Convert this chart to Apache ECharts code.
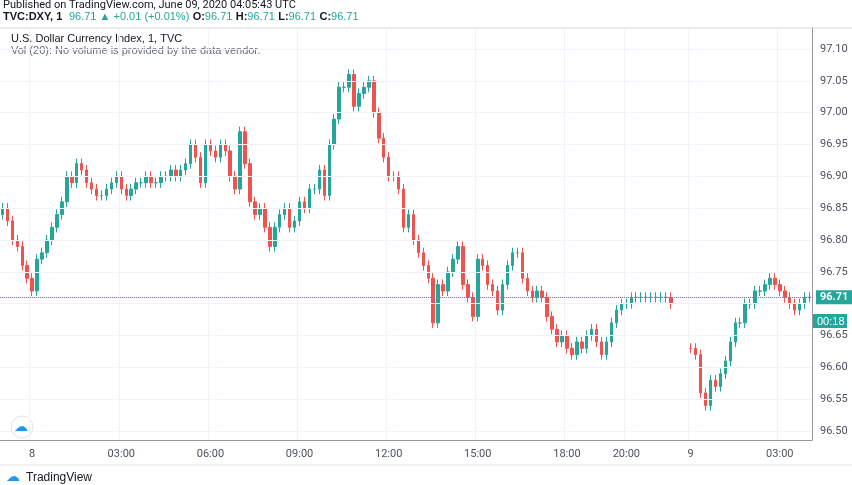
<!DOCTYPE html>
<html><head><meta charset="utf-8">
<script src="https://cdn.jsdelivr.net/npm/echarts@6/dist/echarts.min.js"></script>
<style>html,body{margin:0;padding:0;background:#fff}#c{width:852px;height:485px}</style>
</head><body><div id="c"></div>
<script>
// closes per ~10-min slot, June 8 (from 23:00 Jun 7)
const closesDay8 = [96.85,96.83,96.80,96.79,96.76,96.74,96.72,96.77,96.78,96.80,96.82,96.84,96.86,96.90,96.89,96.92,96.91,96.89,96.88,96.87,96.87,96.88,96.89,96.90,96.88,96.87,96.88,96.89,96.89,96.90,96.89,96.89,96.90,96.90,96.91,96.90,96.91,96.92,96.95,96.93,96.89,96.95,96.94,96.93,96.95,96.94,96.90,96.88,96.97,96.92,96.86,96.84,96.85,96.82,96.79,96.82,96.84,96.85,96.82,96.83,96.86,96.85,96.88,96.88,96.91,96.87,96.95,96.99,97.04,97.04,97.06,97.01,97.03,97.04,97.05,97.00,96.96,96.93,96.90,96.90,96.88,96.82,96.84,96.80,96.78,96.76,96.74,96.67,96.73,96.72,96.75,96.77,96.79,96.73,96.71,96.68,96.77,96.76,96.73,96.72,96.69,96.73,96.76,96.78,96.78,96.74,96.72,96.71,96.72,96.71,96.68,96.66,96.64,96.65,96.63,96.62,96.64,96.63,96.65,96.66,96.64,96.62,96.64,96.67,96.69,96.70,96.70,96.71,96.71,96.71,96.71,96.71,96.71,96.71,96.71,96.70];
const firstOpen = 96.84;
const gapSlots = 3;
const closesDay9 = [96.63,96.62,96.56,96.54,96.58,96.57,96.59,96.61,96.64,96.67,96.67,96.70,96.70,96.72,96.72,96.73,96.74,96.73,96.72,96.71,96.70,96.69,96.70,96.71,96.71];
const day9Open = 96.63;
const yGrid = [96.50,96.55,96.60,96.65,96.70,96.75,96.80,96.85,96.90,96.95,97.00,97.05,97.10];
const yLabels = [96.50,96.55,96.60,96.65,96.75,96.80,96.85,96.90,96.95,97.00,97.05,97.10];
const lastPrice = 96.71;
const xLabelMap = {"00:00|8":"8","03:00|8":"03:00","06:00|8":"06:00","09:00|8":"09:00","12:00|8":"12:00","15:00|8":"15:00","18:00|8":"18:00","20:00|8":"20:00","00:00|9":"9","03:00|9":"03:00"};

const cats=[], candles=[];
const pad=n=>String(n).padStart(2,'0');
let prev=firstOpen;
closesDay8.forEach((c,i)=>{const m=23*60+i*10;const t=m%1440;cats.push(pad(Math.floor(t/60))+':'+pad(t%60)+'|'+(m>=1440?8:7));
  const o=prev;candles.push([o,c,Math.min(o,c)-0.008,Math.max(o,c)+0.008]);prev=c;});
for(let g=0;g<gapSlots;g++){cats.push('gap'+g);candles.push('-');}
prev=day9Open;
closesDay9.forEach((c,i)=>{const m=i*10;cats.push(pad(Math.floor(m/60))+':'+pad(m%60)+'|9');
  const o=prev;candles.push([o,c,Math.min(o,c)-0.008,Math.max(o,c)+0.008]);prev=c;});

const showIdx=(i)=>xLabelMap[cats[i]]!==undefined;
const chart=echarts.init(document.getElementById('c'));
const teal='#26a69a', red='#ef5350';
chart.setOption({
 animation:false,
 textStyle:{fontFamily:'Roboto, Arial, sans-serif'},
 grid:{left:0,right:40,top:28,bottom:45},
 xAxis:{type:'category',data:cats,boundaryGap:true,
   axisLine:{lineStyle:{color:'#999'}},axisTick:{show:false},
   axisLabel:{interval:(i)=>showIdx(i),formatter:(v)=>xLabelMap[v]||'',color:'#4c525e',fontSize:11,margin:9},
   splitLine:{show:true,interval:(i)=>showIdx(i),lineStyle:{color:'#f0f3fa'}}},
 yAxis:{type:'value',position:'right',min:96.486,max:97.133,scale:true,
   axisLine:{show:true,lineStyle:{color:'#999'}},axisTick:{show:false},splitLine:{show:false},
   axisLabel:{customValues:yLabels,formatter:v=>v.toFixed(2),color:'#4c525e',fontSize:11,margin:8}},
 series:[{type:'candlestick',data:candles,barWidth:3,
   itemStyle:{color:teal,color0:red,borderColor:teal,borderColor0:red,borderWidth:1},
   markLine:{symbol:'none',silent:true,animation:false,
     data:[...yGrid.map(v=>({yAxis:v,lineStyle:{color:'#f0f3fa',type:'solid',width:1},label:{show:false}})),
       {yAxis:lastPrice,lineStyle:{color:teal,type:'dotted',width:1},
        label:{show:true,position:'end',formatter:lastPrice.toFixed(2),backgroundColor:teal,color:'#fff',fontSize:11,fontWeight:'bold',padding:[2,4,1,4],distance:4}}]}}],
 graphic:[
  {type:'text',left:3,top:0,style:{text:'Published on TradingView.com, June 09, 2020 04:05:43 UTC',fill:'#131722',fontSize:11,fontFamily:'Roboto'}},
  {type:'text',left:3,top:11,style:{text:'{b|TVC:DXY, 1}  {t|96.71 ▲ +0.01 (+0.01%)} {b|O:}{t|96.71} {b|H:}{t|96.71} {b|L:}{t|96.71} {b|C:}{t|96.71}',
     rich:{b:{fill:'#131722',fontSize:11,fontWeight:'bold'},t:{fill:teal,fontSize:11}}}},
  {type:'line',shape:{x1:0,y1:28,x2:852,y2:28},style:{stroke:'#d6dcde',lineWidth:1}},
  {type:'text',left:11,top:33,style:{text:'U.S. Dollar Currency Index, 1, TVC',fill:'#131722',fontSize:11}},
  {type:'text',left:11,top:45,style:{text:'Vol (20): No volume is provided by the data vendor.',fill:'#6a6d78',fontSize:11}},
  {type:'rect',left:813,top:314,shape:{width:34,height:14},style:{fill:teal}},
  {type:'text',left:817,top:316,style:{text:'00:18',fill:'#fff',fontSize:11}},
  {type:'line',shape:{x1:0,y1:465,x2:852,y2:465},style:{stroke:'#e0e3eb',lineWidth:1}},
  {type:'circle',shape:{cx:22,cy:427,r:11},style:{fill:'#fff',stroke:'#e0e3eb'}},
  {type:'text',left:14,top:420,style:{text:'☁',fill:'#2196f3',fontSize:14}},
  {type:'text',left:6,top:470,style:{text:'☁',fill:'#2196f3',fontSize:14}},
  {type:'text',left:26,top:472,style:{text:'TradingView',fill:'#131722',fontSize:12}}
 ]
});
</script></body></html>
